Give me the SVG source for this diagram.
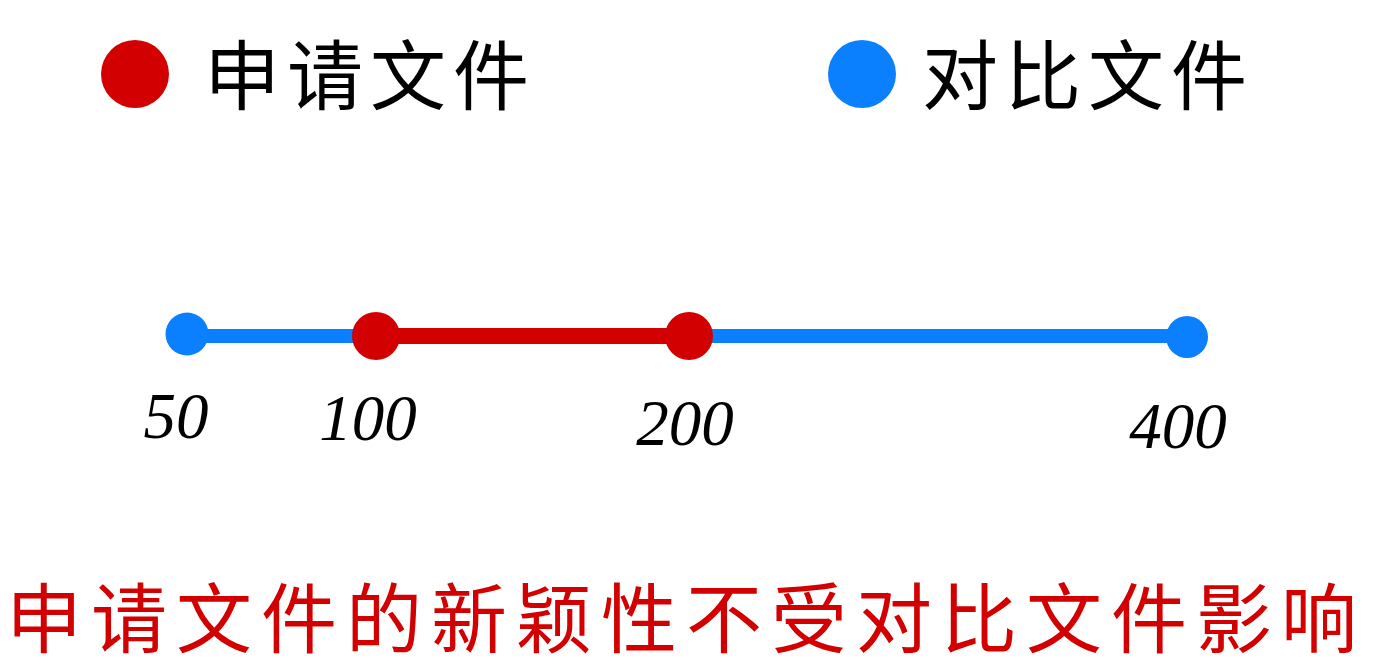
<svg xmlns="http://www.w3.org/2000/svg" width="1394" height="667" viewBox="0 0 1394 667">
<style>
.cjk{font-family:"Noto Sans CJK SC","Noto Sans CJK TC",sans-serif;font-size:76px;}
.leg{fill:#000;letter-spacing:7px;}
.note{fill:#D20000;letter-spacing:9px;}
.num{font-family:"Liberation Serif",serif;font-style:italic;font-size:65px;fill:#000;text-anchor:middle;}
.red{fill:#D20000;}
.blue{fill:#0A80FF;}
</style>
<rect width="1394" height="667" fill="#fff"/>
<g id="legend-application">
<circle class="red" cx="135" cy="74" r="34"/>
<text class="cjk leg" x="204" y="104">申请文件</text>
</g>
<g id="legend-reference">
<circle class="blue" cx="862" cy="74" r="34"/>
<text class="cjk leg" x="922" y="104">对比文件</text>
</g>
<g id="connectors">
<line x1="187" y1="336" x2="1187" y2="336" stroke="#0A80FF" stroke-width="14"/>
<line x1="376" y1="336" x2="689" y2="336" stroke="#D20000" stroke-width="16"/>
</g>
<g id="node-50">
<circle class="blue" cx="187" cy="334" r="21.5"/>
<text class="num" x="176" y="438">50</text>
</g>
<g id="node-100">
<circle class="red" cx="376" cy="336" r="24"/>
<text class="num" x="368" y="440">100</text>
</g>
<g id="node-200">
<circle class="red" cx="689" cy="336" r="24"/>
<text class="num" x="685" y="445">200</text>
</g>
<g id="node-400">
<circle class="blue" cx="1187" cy="337" r="21"/>
<text class="num" x="1178" y="448">400</text>
</g>
<g id="conclusion">
<text class="cjk note" x="6" y="647">申请文件的新颖性不受对比文件影响</text>
</g>
</svg>
